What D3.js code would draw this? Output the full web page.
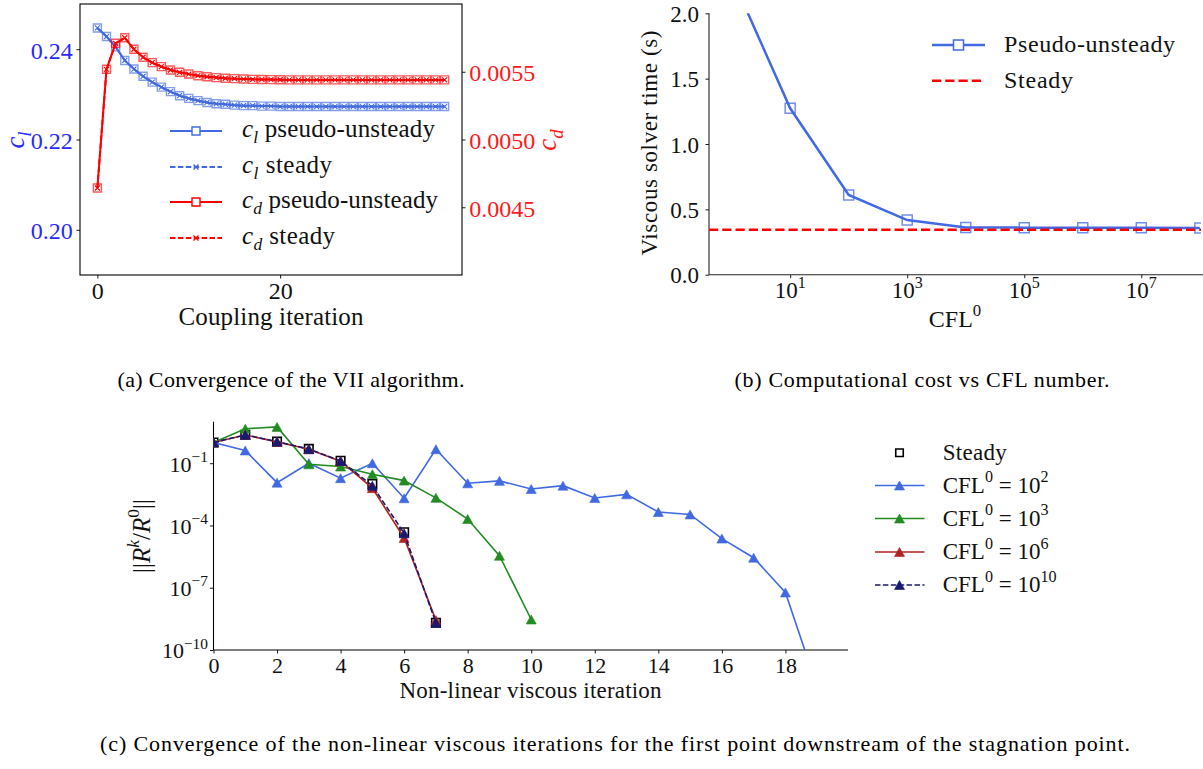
<!DOCTYPE html>
<html>
<head>
<meta charset="utf-8">
<script src="https://cdn.jsdelivr.net/npm/d3@7"></script>
<style>
  html, body { margin: 0; padding: 0; background: #fff; }
  svg { display: block; }
  svg text, svg tspan { font-family: "Liberation Serif", "Times New Roman", Times, serif; }
</style>
</head>
<body>
<svg id="fig" width="1203" height="769"></svg>
<script>
// ---------- (a) VII coupling convergence ----------
const couplingIteration = [0,1,2,3,4,5,6,7,8,9,10,11,12,13,14,15,16,17,18,19,20,21,22,23,24,25,26,27,28,29,30,31,32,33,34,35,36,37,38];
const clPseudoUnsteady = [0.2447,0.2428,0.2405,0.2375,0.2356,0.2340,0.2327,0.2316,0.2306,0.2297,0.2291,0.2286,0.2282,0.2279,0.2278,0.2276,0.2275,0.2275,0.2274,0.2274,0.2273,0.2273,0.2273,0.2273,0.2273,0.2273,0.2273,0.2273,0.2273,0.2273,0.2273,0.2273,0.2273,0.2273,0.2273,0.2273,0.2273,0.2273,0.2273];
const clSteady = [0.2447,0.2428,0.2405,0.2375,0.2356,0.2340,0.2327,0.2316,0.2306,0.2297,0.2291,0.2286,0.2282,0.2279,0.2278,0.2276,0.2275,0.2275,0.2274,0.2274,0.2273,0.2273,0.2273,0.2273,0.2273,0.2273,0.2273,0.2273,0.2273,0.2273,0.2273,0.2273,0.2273,0.2273,0.2273,0.2273,0.2273,0.2273,0.2273];
const cdPseudoUnsteady = [0.004642,0.005518,0.005710,0.005751,0.005666,0.005607,0.005567,0.005538,0.005513,0.005496,0.005483,0.005471,0.005463,0.005457,0.005452,0.005449,0.005446,0.005444,0.005443,0.005442,0.005441,0.005440,0.005440,0.005440,0.005440,0.005440,0.005440,0.005440,0.005440,0.005440,0.005440,0.005440,0.005440,0.005440,0.005440,0.005440,0.005440,0.005440,0.005440];
const cdSteady = [0.004642,0.005518,0.005710,0.005751,0.005666,0.005607,0.005567,0.005538,0.005513,0.005496,0.005483,0.005471,0.005463,0.005457,0.005452,0.005449,0.005446,0.005444,0.005443,0.005442,0.005441,0.005440,0.005440,0.005440,0.005440,0.005440,0.005440,0.005440,0.005440,0.005440,0.005440,0.005440,0.005440,0.005440,0.005440,0.005440,0.005440,0.005440,0.005440];
const clTicks = [0.20, 0.22, 0.24];
const cdTicks = [0.0045, 0.0050, 0.0055];
const couplingTicks = [0, 20];

// ---------- (b) viscous solver cost vs initial CFL ----------
const cflValues = [1e0, 1e1, 1e2, 1e3, 1e4, 1e5, 1e6, 1e7, 1e8];
const solverTimePseudo = [2.28, 1.273, 0.61, 0.418, 0.362, 0.360, 0.360, 0.360, 0.357];
const solverTimeSteady = 0.344;
const cflTicks = [1e1, 1e3, 1e5, 1e7];
const cflTickExponents = ["1", "3", "5", "7"];
const timeTicks = [0, 0.5, 1.0, 1.5, 2.0];

// ---------- (c) non-linear viscous residual history ----------
const residualSteady  = [1, 2.34, 1.10, 0.490, 0.132, 0.0100, 4.7e-5, 2.04e-9];
const residualCfl1e2  = [1, 0.41, 0.0116, 0.100, 0.019, 0.100, 0.00204, 0.473, 0.0108, 0.0141, 0.00575, 0.0083, 0.0021, 0.00316, 0.000447, 0.000339, 2.34e-5, 2.8e-6, 5.9e-8, 1.7e-12];
const residualCfl1e3  = [1, 4.6, 5.6, 0.089, 0.069, 0.0295, 0.0145, 0.00214, 0.000204, 3.47e-6, 2.95e-9];
const residualCfl1e6  = [1, 2.29, 1.07, 0.468, 0.126, 0.0063, 2.5e-5, 2.75e-9];
const residualCfl1e10 = [1, 2.32, 1.10, 0.479, 0.129, 0.0083, 4.2e-5, 2.04e-9];
const residualTicks = [1e-1, 1e-4, 1e-7, 1e-10];
const residualTickExponents = ["\u22121", "\u22124", "\u22127", "\u221210"];
const viscousIterTicks = [0, 2, 4, 6, 8, 10, 12, 14, 16, 18];
const residualLegend = ["Steady", "2", "3", "6", "10"];

const captions = [
  "(a) Convergence of the VII algorithm.",
  "(b) Computational cost vs CFL number.",
  "(c) Convergence of the non-linear viscous iterations for the first point downstream of the stagnation point."
];

// ---------- helpers ----------
const ROYAL = "#4169e1", RED = "#ff0000", GREEN = "#228b22", FIRE = "#b22222", NAVY = "#191970";

const svg = d3.select("#fig");
svg.append("rect").attr("width", 1203).attr("height", 769).attr("fill", "#fff");
const defs = svg.append("defs");

function plainText(g, s, x, y, o = {}) {
  const t = g.append("text").attr("x", x).attr("y", y).text(s)
    .attr("font-size", o.size || 23).attr("fill", o.fill || "#111")
    .attr("text-anchor", o.anchor || "start");
  if (o.len) t.attr("textLength", o.len).attr("lengthAdjust", o.adjust || "spacing");
  return t;
}

// text built from parts: {t, it, sup, sub}
function richText(g, parts, x, y, o = {}) {
  const size = o.size || 23;
  const t = g.append("text").attr("x", x).attr("y", y)
    .attr("font-size", size).attr("fill", o.fill || "#111")
    .attr("text-anchor", o.anchor || "start");
  let shift = 0;
  parts.forEach(p => {
    const target = p.sup ? -0.45 * size : p.sub ? 0.25 * size : 0;
    const ts = t.append("tspan").text(p.t).attr("dy", target - shift);
    shift = target;
    if (p.sup || p.sub) ts.attr("font-size", size * 0.7);
    if (p.it) ts.attr("font-style", "italic");
  });
  if (o.len) t.attr("textLength", o.len).attr("lengthAdjust", "spacing");
  return t;
}

function squarePath(s) { const h = s / 2; return `M${-h},${-h}H${h}V${h}H${-h}Z`; }
function crossPath(s) { const h = s / 2; return `M${-h},${-h}L${h},${h}M${-h},${h}L${h},${-h}`; }
function trianglePath(w, h) { return `M0,${-h / 2}L${w / 2},${h / 2}L${-w / 2},${h / 2}Z`; }

function styleAxis(g, size) {
  g.attr("font-family", null).attr("font-size", size);
  g.select(".domain").remove();
  g.selectAll(".tick line").attr("stroke", "#000").attr("stroke-width", 0.9);
}

// =====================================================================
// (a) lift and drag coefficients over coupling iterations
// =====================================================================
const A = { l: 80, r: 462, t: 4, b: 275 };
const xA = d3.scaleLinear().domain([-1.9, 39.9]).range([A.l, A.r]);
const yCl = d3.scaleLinear().domain([0.19, 0.25]).range([A.b, A.t]);
const yCd = d3.scaleLinear().domain([0.004, 0.006]).range([A.b, A.t]);
const gA = svg.append("g");

const axAL = gA.append("g").attr("transform", `translate(${A.l},0)`)
  .call(d3.axisLeft(yCl).tickValues(clTicks).tickSize(3.5).tickPadding(3.8).tickFormat(d3.format(".2f")));
styleAxis(axAL, 24);
axAL.selectAll("text").attr("fill", "#2a2aff").attr("dy", "0.37em");

const axAR = gA.append("g").attr("transform", `translate(${A.r},0)`)
  .call(d3.axisRight(yCd).tickValues(cdTicks).tickSize(3.5).tickPadding(3.8).tickFormat(d3.format(".4f")));
styleAxis(axAR, 24);
axAR.selectAll("text").attr("fill", "#ff1a1a").attr("dy", "0.37em");

const axAB = gA.append("g").attr("transform", `translate(0,${A.b})`)
  .call(d3.axisBottom(xA).tickValues(couplingTicks).tickSize(3.5).tickPadding(3).tickFormat(d3.format("d")));
styleAxis(axAB, 24);
axAB.selectAll("text").attr("fill", "#111").attr("dy", null).attr("y", 24);

gA.append("rect").attr("x", A.l).attr("y", A.t).attr("width", A.r - A.l).attr("height", A.b - A.t)
  .attr("fill", "none").attr("stroke", "#000").attr("stroke-width", 1.1);

function coeffSeries(values, yScale, color, pseudo) {
  const line = d3.line().x((d, i) => xA(couplingIteration[i])).y(d => yScale(d));
  const g = gA.append("g");
  g.append("path").datum(values).attr("d", line).attr("fill", "none")
    .attr("stroke", color).attr("stroke-width", 2)
    .attr("stroke-dasharray", pseudo ? null : "5.5,2.4");
  g.selectAll("path.m").data(values).join("path").attr("class", "m")
    .attr("transform", (d, i) => `translate(${xA(couplingIteration[i])},${yScale(d)})`)
    .attr("d", pseudo ? squarePath(8) : crossPath(5))
    .attr("fill", "none").attr("stroke", color)
    .attr("stroke-width", pseudo ? 1.4 : 1.1)
    .attr("stroke-opacity", pseudo ? 0.65 : 1);
}
coeffSeries(clPseudoUnsteady, yCl, ROYAL, true);
coeffSeries(clSteady, yCl, ROYAL, false);
coeffSeries(cdPseudoUnsteady, yCd, RED, true);
coeffSeries(cdSteady, yCd, RED, false);

// legend (a)
const legA = [
  { sym: "l", label: " pseudo-unsteady", color: ROYAL, pseudo: true, y: 131, len: 193 },
  { sym: "l", label: " steady", color: ROYAL, pseudo: false, y: 167, len: 90 },
  { sym: "d", label: " pseudo-unsteady", color: RED, pseudo: true, y: 202, len: 196 },
  { sym: "d", label: " steady", color: RED, pseudo: false, y: 238, len: 93 }
];
legA.forEach(d => {
  gA.append("line").attr("x1", 170).attr("x2", 222).attr("y1", d.y).attr("y2", d.y)
    .attr("stroke", d.color).attr("stroke-width", 2)
    .attr("stroke-dasharray", d.pseudo ? null : "5.5,2.4");
  gA.append("path").attr("transform", `translate(196,${d.y})`)
    .attr("d", d.pseudo ? squarePath(8) : crossPath(5))
    .attr("fill", d.pseudo ? "#fff" : "none").attr("stroke", d.color).attr("stroke-width", 1.4);
  richText(gA, [{ t: "c", it: true }, { t: d.sym, it: true, sub: true }, { t: d.label }],
    242, d.y + 6, { size: 25, len: d.len });
});

// axis titles (a)
plainText(gA, "Coupling iteration", 271, 325, { size: 25, anchor: "middle", len: 185 });
const clLabel = gA.append("g").attr("transform", "translate(24,140) rotate(-90)");
richText(clLabel, [{ t: "c", it: true }, { t: "l", it: true, sub: true }], 0, 0, { size: 27, anchor: "middle", fill: "#2a2aff" });
const cdLabel = gA.append("g").attr("transform", "translate(556,140) rotate(-90)");
richText(cdLabel, [{ t: "c", it: true }, { t: "d", it: true, sub: true }], 0, 0, { size: 27, anchor: "middle", fill: "#ff1a1a" });

// =====================================================================
// (b) viscous solver time against initial CFL number
// =====================================================================
const B = { l: 709, r: 1201, t: 13.3, b: 274.7 };
const xB = d3.scaleLog().domain([Math.pow(10, -0.387), Math.pow(10, 8.02)]).range([B.l, B.r]);
const yB = d3.scaleLinear().domain([0, 2]).range([B.b, B.t]);
const gB = svg.append("g");
defs.append("clipPath").attr("id", "clipB").append("rect")
  .attr("x", B.l).attr("y", B.t).attr("width", B.r - B.l).attr("height", B.b - B.t);

const axBL = gB.append("g").attr("transform", `translate(${B.l},0)`)
  .call(d3.axisLeft(yB).tickValues(timeTicks).tickSize(3.5).tickPadding(6.5).tickFormat(d3.format(".1f")));
styleAxis(axBL, 23);
axBL.selectAll("text").attr("fill", "#111").attr("dy", "0.36em");

const axBB = gB.append("g").attr("transform", `translate(0,${B.b})`)
  .call(d3.axisBottom(xB).tickValues(cflTicks).tickSize(3.5).tickFormat(""));
styleAxis(axBB, 23);
cflTicks.forEach((v, i) => {
  richText(gB, [{ t: "10" }, { t: cflTickExponents[i], sup: true }], xB(v), 298, { size: 23, anchor: "middle" });
});
gB.append("line").attr("x1", B.l).attr("x2", B.l).attr("y1", B.t).attr("y2", B.b).attr("stroke", "#222").attr("stroke-width", 1.1);
gB.append("line").attr("x1", B.l).attr("x2", 1203).attr("y1", B.b).attr("y2", B.b).attr("stroke", "#222").attr("stroke-width", 1.1);

const plotB = gB.append("g").attr("clip-path", "url(#clipB)");
plotB.append("path").datum(solverTimePseudo)
  .attr("d", d3.line().x((d, i) => xB(cflValues[i])).y(d => yB(d)))
  .attr("fill", "none").attr("stroke", ROYAL).attr("stroke-width", 2.5);
plotB.selectAll("path.m").data(solverTimePseudo).join("path").attr("class", "m")
  .attr("transform", (d, i) => `translate(${xB(cflValues[i])},${yB(d)})`)
  .attr("d", squarePath(10)).attr("fill", "none")
  .attr("stroke", ROYAL).attr("stroke-width", 1.5).attr("stroke-opacity", 0.75);
plotB.append("line").attr("x1", B.l).attr("x2", B.r).attr("y1", yB(solverTimeSteady)).attr("y2", yB(solverTimeSteady))
  .attr("stroke", RED).attr("stroke-width", 2.5).attr("stroke-dasharray", "9.25,4");

// legend (b)
gB.append("line").attr("x1", 932).attr("x2", 985).attr("y1", 45).attr("y2", 45).attr("stroke", ROYAL).attr("stroke-width", 2.5);
gB.append("path").attr("transform", "translate(958.5,45)").attr("d", squarePath(10))
  .attr("fill", "#fff").attr("stroke", ROYAL).attr("stroke-width", 1.5);
gB.append("line").attr("x1", 932).attr("x2", 985).attr("y1", 80.7).attr("y2", 80.7)
  .attr("stroke", RED).attr("stroke-width", 2.5).attr("stroke-dasharray", "9.25,4");
plainText(gB, "Pseudo-unsteady", 1004, 52, { size: 24, len: 171 });
plainText(gB, "Steady", 1004, 88, { size: 24, len: 69 });

// axis titles (b)
richText(gB, [{ t: "CFL" }, { t: "0", sup: true }], 955, 327, { size: 24, anchor: "middle" });
const ylabB = gB.append("g").attr("transform", "translate(657,143) rotate(-90)");
plainText(ylabB, "Viscous solver time (s)", 0, 0, { size: 23, anchor: "middle", len: 225 });

// =====================================================================
// (c) residual convergence of the non-linear viscous iterations
// =====================================================================
const C = { l: 213.5, r: 848, t: 421.7, b: 650 };
const xC = d3.scaleLinear().domain([0, 19.97]).range([C.l, C.r]);
const yC = d3.scaleLog().domain([1e-10, 1e1]).range([C.b, C.t]);
const gC = svg.append("g");
defs.append("clipPath").attr("id", "clipC").append("rect")
  .attr("x", C.l).attr("y", C.t).attr("width", C.r - C.l).attr("height", C.b - C.t);

const axCL = gC.append("g").attr("transform", `translate(${C.l},0)`)
  .call(d3.axisLeft(yC).tickValues(residualTicks).tickSize(3.5).tickFormat(""));
styleAxis(axCL, 22);
residualTicks.forEach((v, i) => {
  richText(gC, [{ t: "10" }, { t: residualTickExponents[i], sup: true }], 208, yC(v) + 8.4, { size: 22, anchor: "end" });
});
const axCB = gC.append("g").attr("transform", `translate(0,${C.b})`)
  .call(d3.axisBottom(xC).tickValues(viscousIterTicks).tickSize(3.5).tickFormat(d3.format("d")));
styleAxis(axCB, 22);
axCB.selectAll("text").attr("fill", "#111").attr("dy", null).attr("y", 23);
gC.append("line").attr("x1", C.l).attr("x2", C.l).attr("y1", C.t).attr("y2", C.b).attr("stroke", "#000").attr("stroke-width", 1.1);
gC.append("line").attr("x1", C.l).attr("x2", C.r).attr("y1", C.b).attr("y2", C.b).attr("stroke", "#000").attr("stroke-width", 1.1);

const plotC = gC.append("g").attr("clip-path", "url(#clipC)");
const lineC = d3.line().x((d, i) => xC(i)).y(d => yC(d));

// steady solver: open squares only
plotC.selectAll("path.steady").data(residualSteady).join("path").attr("class", "steady")
  .attr("transform", (d, i) => `translate(${xC(i)},${yC(d)})`)
  .attr("d", squarePath(8.5)).attr("fill", "none").attr("stroke", "#000").attr("stroke-width", 1.6);

function residualSeries(values, color, dashed, cls) {
  plotC.append("path").datum(values).attr("d", lineC).attr("fill", "none")
    .attr("stroke", color).attr("stroke-width", 1.6)
    .attr("stroke-dasharray", dashed ? "5.5,2.4" : null);
  plotC.selectAll("path." + cls).data(values).join("path").attr("class", cls)
    .attr("transform", (d, i) => `translate(${xC(i)},${yC(d)})`)
    .attr("d", trianglePath(10, 9)).attr("fill", color).attr("stroke", color).attr("stroke-width", 0.6);
}
residualSeries(residualCfl1e2, ROYAL, false, "c2");
residualSeries(residualCfl1e3, GREEN, false, "c3");
residualSeries(residualCfl1e6, FIRE, false, "c6");
residualSeries(residualCfl1e10, NAVY, true, "c10");

// legend (c)
const legRows = [452.7, 485.5, 518.5, 552, 585];
gC.append("path").attr("transform", `translate(899.5,${legRows[0]})`).attr("d", squarePath(7.5))
  .attr("fill", "none").attr("stroke", "#000").attr("stroke-width", 1.6);
plainText(gC, residualLegend[0], 942.7, legRows[0] + 7, { size: 23, len: 64 });
[[ROYAL, false], [GREEN, false], [FIRE, false], [NAVY, true]].forEach(([color, dashed], k) => {
  const y = legRows[k + 1];
  gC.append("line").attr("x1", 875).attr("x2", 924.5).attr("y1", y).attr("y2", y)
    .attr("stroke", color).attr("stroke-width", 1.6).attr("stroke-dasharray", dashed ? "5.5,2.4" : null);
  gC.append("path").attr("transform", `translate(899.5,${y})`).attr("d", trianglePath(10, 9))
    .attr("fill", color).attr("stroke", color).attr("stroke-width", 0.6);
  richText(gC, [{ t: "CFL" }, { t: "0", sup: true }, { t: " = 10" }, { t: residualLegend[k + 1], sup: true }],
    942.7, y + 7, { size: 23 });
});

// axis titles (c)
plainText(gC, "Non-linear viscous iteration", 530.5, 698, { size: 23, anchor: "middle", len: 262 });
const ylabC = gC.append("g").attr("transform", "translate(150,536) rotate(-90)");
richText(ylabC, [{ t: "||" }, { t: "R", it: true }, { t: "k", it: true, sup: true }, { t: "/" },
  { t: "R", it: true }, { t: "0", sup: true }, { t: "||" }], 0, 0, { size: 25, anchor: "middle" });

// ---------- sub-figure captions ----------
plainText(svg, captions[0], 291, 387, { size: 22, anchor: "middle", len: 347, fill: "#000" });
plainText(svg, captions[1], 922, 387, { size: 22, anchor: "middle", len: 375, fill: "#000" });
plainText(svg, captions[2], 615, 751, { size: 22, anchor: "middle", len: 1030, fill: "#000" });
</script>
</body>
</html>
